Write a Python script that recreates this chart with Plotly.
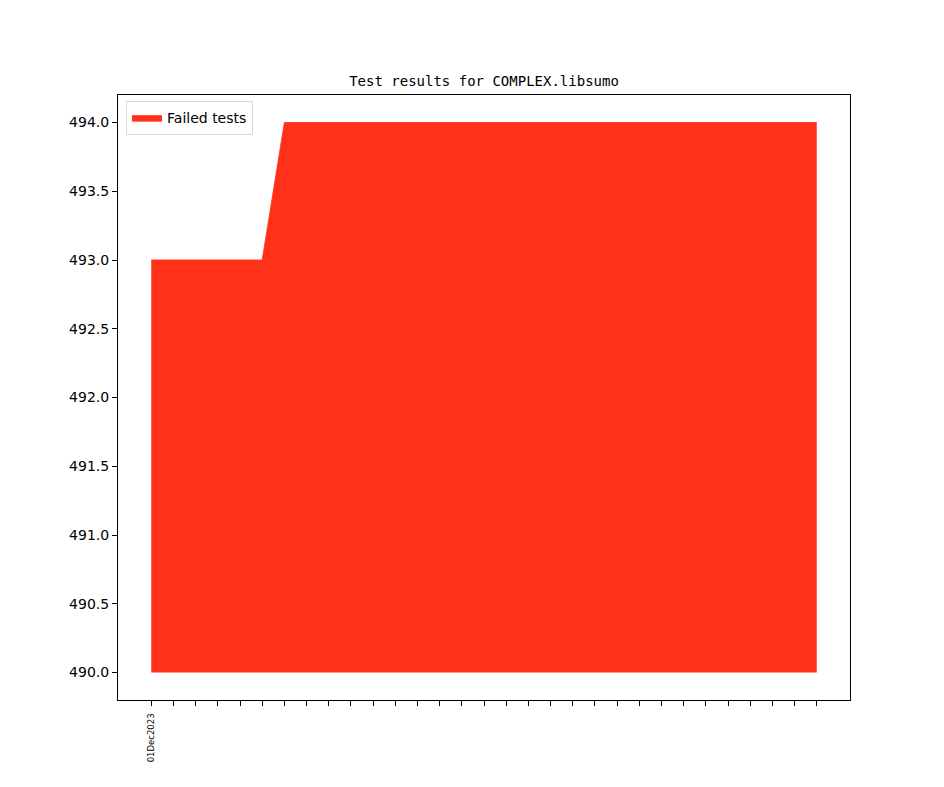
import plotly.graph_objects as go
import pandas as pd

# Data
dates = pd.date_range("2023-12-01", "2023-12-31", freq="D").strftime("%Y-%m-%d").tolist()
failed = [493, 493, 493, 493, 493, 493] + [494] * 25
baseline = [490] * len(dates)
tick_labels = ["01Dec2023"] + [""] * (len(dates) - 1)
y_ticks = [490.0, 490.5, 491.0, 491.5, 492.0, 492.5, 493.0, 493.5, 494.0]

RED = "#ff3119"

fig = go.Figure()
fig.add_trace(go.Scatter(x=dates, y=baseline, mode="lines", line=dict(width=0, color=RED),
                         showlegend=False, hoverinfo="skip"))
fig.add_trace(go.Scatter(x=dates, y=failed, mode="lines", fill="tonexty",
                         fillcolor=RED, line=dict(width=0.8, color=RED), name="Failed tests"))

fig.update_layout(
    width=944, height=787,
    margin=dict(l=110, r=102, t=87, b=95),
    paper_bgcolor="white", plot_bgcolor="white",
    font=dict(family="DejaVu Sans", size=14, color="black"),
    title=dict(text="Test results for COMPLEX.libsumo", x=(484 - 8) / 944, xanchor="center",
               y=1 - 73 / 787, yanchor="middle",
               font=dict(family="DejaVu Sans Mono", size=14, color="black")),
    legend=dict(x=0.011, y=0.99, xanchor="left", yanchor="top",
                bordercolor="#d9d9d9", borderwidth=1, bgcolor="rgba(255,255,255,0.8)",
                itemwidth=30, font=dict(size=14), tracegroupgap=0),
    showlegend=True,
)
fig.update_xaxes(
    type="date",
    range=["2023-11-29 12:00", "2024-01-01 12:00"],
    tickmode="array", tickvals=dates, ticktext=tick_labels,
    tickangle=-90, tickfont=dict(size=8.5), ticklabelstandoff=4,
    ticks="outside", ticklen=5, tickcolor="black",
    showline=True, linecolor="black", linewidth=1, mirror=True,
    showgrid=False, zeroline=False,
)
fig.update_yaxes(
    range=[489.8, 494.2],
    tickmode="array", tickvals=y_ticks, ticktext=[f"{v:.1f}" for v in y_ticks],
    ticks="outside", ticklen=5, tickcolor="black", tickfont=dict(size=14),
    showline=True, linecolor="black", linewidth=1, mirror=True,
    showgrid=False, zeroline=False,
)

fig.write_html("out.html")
